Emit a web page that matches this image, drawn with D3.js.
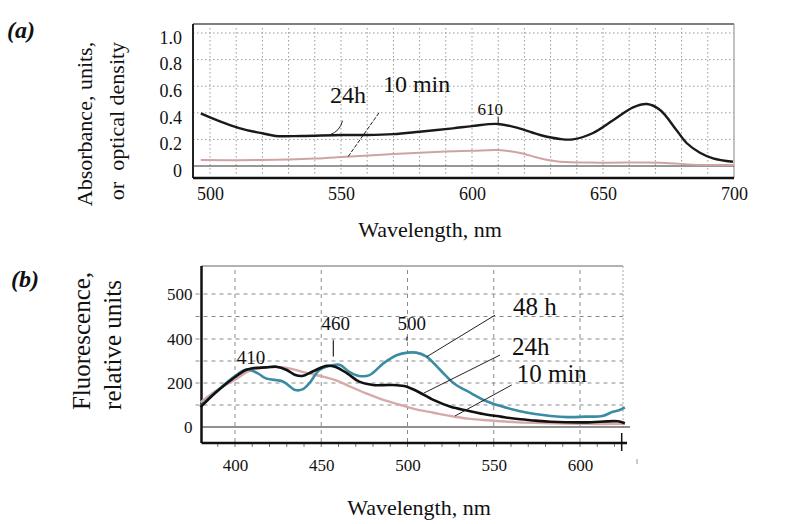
<!DOCTYPE html>
<html>
<head>
<meta charset="utf-8">
<script src="https://cdn.jsdelivr.net/npm/d3@7"></script>
<style>
  body { margin: 0; background: #fff; }
  svg text { font-family: "Liberation Serif", "Times New Roman", Times, "DejaVu Serif", serif !important; fill: #111; }
</style>
</head>
<body>
<svg width="808" height="524" font-family="Liberation Serif"></svg>
<script>
// ---- panel (a): absorbance ----
const absWave24 = [496.5, 500, 507.6, 514, 520, 525, 535, 550, 560, 570, 580, 592.7, 600, 610, 618, 626, 633.6, 638.5, 646, 654, 661.5, 666.8, 671.8, 678, 682, 687, 692, 699.6];
const absVal24  = [0.396, 0.366, 0.308, 0.27, 0.246, 0.226, 0.226, 0.233, 0.233, 0.24, 0.258, 0.283, 0.30, 0.316, 0.283, 0.233, 0.203, 0.2, 0.246, 0.346, 0.441, 0.466, 0.421, 0.271, 0.171, 0.1, 0.058, 0.032];
const absWave10 = [496.5, 520, 540, 552, 570, 588, 600, 610, 618, 626, 633.6, 649, 672, 687, 700];
const absVal10  = [0.045, 0.045, 0.056, 0.07, 0.09, 0.107, 0.114, 0.12, 0.1, 0.058, 0.032, 0.025, 0.025, 0.008, 0.008];
const absXTicks = [500, 550, 600, 650, 700];
const absYTicks = [0, 0.2, 0.4, 0.6, 0.8, 1.0];

// ---- panel (b): fluorescence ----
const flWave48 = [380, 389, 400, 407, 413, 418, 428, 435, 439, 443, 449, 457, 461, 466, 472, 478, 486, 494, 500, 505, 511, 519, 527, 537, 544, 554, 564, 574, 583, 593, 603, 613, 619, 623, 626];
const flVal48  = [95, 160, 232, 262, 245, 221, 206, 168, 171, 198, 259, 282, 282, 252, 232, 236, 289, 327, 338, 338, 320, 259, 198, 153, 123, 95, 74, 59, 50, 45, 47, 50, 69, 77, 89];
const flWave24 = [380, 389, 400, 406, 410, 418, 424, 430, 435, 439, 445, 453, 458, 465, 472, 480, 490, 498, 505, 515, 525, 535, 544, 554, 564, 574, 583, 603, 622, 626];
const flVal24  = [90, 158, 227, 258, 267, 271, 274, 259, 236, 232, 252, 278, 274, 244, 206, 191, 191, 186, 165, 123, 92, 74, 59, 47, 36, 29, 24, 21, 26, 17];
const flWave10 = [380, 389, 400, 407, 414, 428, 434, 441, 451, 459, 467, 476, 486, 496, 505, 515, 525, 535, 544, 564, 583, 603, 626];
const flVal10  = [112, 165, 215, 250, 267, 271, 262, 247, 229, 211, 183, 153, 123, 100, 80, 65, 50, 38, 32, 21, 17, 14, 14];
const flXTicks = [400, 450, 500, 550, 600];
const flYTicks = [0, 200, 400, 500];
const flGrid   = [100, 200, 300, 400, 450, 500];

const serif = "Liberation Serif";
const svg = d3.select("svg");

// scales
const xa = d3.scaleLinear().domain([500, 700]).range([210, 734]);
const ya = d3.scaleLinear().domain([0, 1]).range([166, 33]);
const xb = d3.scaleLinear().domain([400, 600]).range([235, 580]);
// the printed "500" label sits one grid step higher than linear, so the scale bends above 400
const yb = d3.scaleLinear().domain([0, 400, 500]).range([427, 339, 294]);

const boxA = {l: 193, r: 734, t: 24, b: 178};
const boxB = {l: 201.5, r: 623, t: 266, b: 443};

function label(g, x, y, size, txt) {
    return g.append("text").attr("x", x).attr("y", y)
        .attr("font-family", serif).attr("font-size", size).text(txt);
}

// ================= panel (a) =================
const ga = svg.append("g");

// dotted grid
ga.append("g")
    .selectAll("line")
    .data(d3.range(500, 700, 10))
    .join("line")
    .attr("x1", d => xa(d)).attr("x2", d => xa(d))
    .attr("y1", boxA.t + 4).attr("y2", boxA.b - 2)
    .attr("stroke", "#9a9a9a").attr("stroke-width", 1)
    .attr("stroke-dasharray", "1.5,2.5");
ga.append("g")
    .selectAll("line")
    .data(absYTicks.slice(1))
    .join("line")
    .attr("x1", boxA.l).attr("x2", boxA.r)
    .attr("y1", d => ya(d)).attr("y2", d => ya(d))
    .attr("stroke", "#9a9a9a").attr("stroke-width", 1)
    .attr("stroke-dasharray", "1.5,2.5");

// frame
ga.append("line").attr("x1", boxA.l).attr("x2", boxA.r).attr("y1", boxA.t).attr("y2", boxA.t)
    .attr("stroke", "#555").attr("stroke-width", 1.5);
ga.append("line").attr("x1", boxA.r).attr("x2", boxA.r).attr("y1", boxA.t).attr("y2", boxA.b)
    .attr("stroke", "#999").attr("stroke-width", 1.2);
ga.append("line").attr("x1", boxA.l).attr("x2", boxA.l).attr("y1", boxA.t).attr("y2", boxA.b)
    .attr("stroke", "#222").attr("stroke-width", 2);
ga.append("line").attr("x1", boxA.l).attr("x2", boxA.r).attr("y1", boxA.b).attr("y2", boxA.b)
    .attr("stroke", "#111").attr("stroke-width", 2.5);
ga.append("line").attr("x1", boxA.l).attr("x2", boxA.r).attr("y1", ya(0)).attr("y2", ya(0))
    .attr("stroke", "#333").attr("stroke-width", 1.2);

// axes (labels only)
ga.append("g")
    .attr("transform", `translate(${boxA.l},0)`)
    .call(d3.axisLeft(ya).tickValues(absYTicks).tickSize(0).tickPadding(11)
        .tickFormat(d => d === 0 ? "0" : d3.format(".1f")(d)))
    .attr("font-family", serif).attr("font-size", 18)
    .call(g => g.select(".domain").remove())
    .call(g => g.selectAll("text").attr("dy", "0.57em").attr("fill", "#222"));
ga.append("g")
    .attr("transform", `translate(0,${boxA.b})`)
    .call(d3.axisBottom(xa).tickValues(absXTicks).tickSize(0).tickPadding(9))
    .attr("font-family", serif).attr("font-size", 18)
    .call(g => g.select(".domain").remove())
    .call(g => g.selectAll("text").attr("fill", "#222"));

const lineA = d3.line().x(d => xa(d[0])).y(d => ya(d[1])).curve(d3.curveCatmullRom);
ga.append("path").datum(d3.zip(absWave10, absVal10)).attr("d", lineA)
    .attr("fill", "none").attr("stroke", "#cfa3a3").attr("stroke-width", 2);
ga.append("path").datum(d3.zip(absWave24, absVal24)).attr("d", lineA)
    .attr("fill", "none").attr("stroke", "#1a1a1a").attr("stroke-width", 2.4);

// annotations (a)
label(ga, xa(545.8), ya(0.474), 24, "24h");
label(ga, xa(566), ya(0.559), 24, "10 min");
ga.append("path")
    .attr("d", `M${xa(550.6)},${ya(0.34)} Q${xa(549.5)},${ya(0.26)} ${xa(545.8)},${ya(0.235)}`)
    .attr("fill", "none").attr("stroke", "#222").attr("stroke-width", 1);
ga.append("line")
    .attr("x1", xa(564.5)).attr("y1", ya(0.4)).attr("x2", xa(552.7)).attr("y2", ya(0.07))
    .attr("stroke", "#222").attr("stroke-width", 1).attr("stroke-dasharray", "4,1.5");
label(ga, xa(607), ya(0.383), 17, "610").attr("text-anchor", "middle");
ga.append("line").attr("x1", xa(610)).attr("x2", xa(610)).attr("y1", ya(0.368)).attr("y2", ya(0.316))
    .attr("stroke", "#222").attr("stroke-width", 1);

label(ga, 430, 237, 22, "Wavelength, nm").attr("text-anchor", "middle");
ga.append("text").attr("transform", "translate(92,124) rotate(-90)")
    .attr("font-family", serif).attr("font-size", 22)
    .attr("text-anchor", "middle").text("Absorbance, units,");
ga.append("text").attr("transform", "translate(124,121) rotate(-90)")
    .attr("font-family", serif).attr("font-size", 22)
    .attr("text-anchor", "middle").attr("xml:space", "preserve").text("or  optical density");
label(ga, 7, 38, 24, "(a)").attr("font-weight", "bold").attr("font-style", "italic");

// ================= panel (b) =================
const gb = svg.append("g");

gb.append("g")
    .selectAll("line")
    .data(flGrid)
    .join("line")
    .attr("x1", boxB.l - 6).attr("x2", boxB.r)
    .attr("y1", d => yb(d)).attr("y2", d => yb(d))
    .attr("stroke", "#8a8a8a").attr("stroke-width", 1)
    .attr("stroke-dasharray", "4,4");
gb.append("g")
    .selectAll("line")
    .data(flXTicks)
    .join("line")
    .attr("x1", d => xb(d)).attr("x2", d => xb(d))
    .attr("y1", boxB.t + 4).attr("y2", boxB.b)
    .attr("stroke", "#8a8a8a").attr("stroke-width", 1)
    .attr("stroke-dasharray", "4,4");
// minor ticks under the axis
gb.append("g")
    .selectAll("line")
    .data(d3.range(390, 630, 10))
    .join("line")
    .attr("x1", d => xb(d)).attr("x2", d => xb(d))
    .attr("y1", boxB.b + 1).attr("y2", boxB.b + 4)
    .attr("stroke", "#777").attr("stroke-width", 1);

gb.append("line").attr("x1", boxB.l).attr("x2", boxB.r).attr("y1", boxB.t).attr("y2", boxB.t)
    .attr("stroke", "#666").attr("stroke-width", 1.2);
gb.append("line").attr("x1", boxB.r).attr("x2", boxB.r).attr("y1", boxB.t).attr("y2", yb(0))
    .attr("stroke", "#aaa").attr("stroke-width", 1).attr("stroke-dasharray", "2,2");
gb.append("line").attr("x1", boxB.l).attr("x2", boxB.l).attr("y1", boxB.t).attr("y2", boxB.b)
    .attr("stroke", "#111").attr("stroke-width", 2.5);
gb.append("line").attr("x1", boxB.l).attr("x2", 627).attr("y1", boxB.b).attr("y2", boxB.b)
    .attr("stroke", "#111").attr("stroke-width", 2.5);
gb.append("line").attr("x1", boxB.l).attr("x2", 630).attr("y1", yb(0)).attr("y2", yb(0))
    .attr("stroke", "#222").attr("stroke-width", 1.2);
gb.append("line").attr("x1", 621.7).attr("x2", 621.7).attr("y1", boxB.b - 10).attr("y2", boxB.b + 8)
    .attr("stroke", "#111").attr("stroke-width", 1.5);
gb.append("line").attr("x1", 637).attr("x2", 637).attr("y1", 459).attr("y2", 464)
    .attr("stroke", "#999").attr("stroke-width", 1);

gb.append("g")
    .attr("transform", `translate(${boxB.l},0)`)
    .call(d3.axisLeft(yb).tickValues(flYTicks).tickSize(0).tickPadding(9))
    .attr("font-family", serif).attr("font-size", 17)
    .call(g => g.select(".domain").remove())
    .call(g => g.selectAll("text").attr("fill", "#222"));
gb.append("g")
    .attr("transform", `translate(0,${boxB.b})`)
    .call(d3.axisBottom(xb).tickValues(flXTicks).tickSize(0).tickPadding(16))
    .attr("font-family", serif).attr("font-size", 17)
    .call(g => g.select(".domain").remove())
    .call(g => g.selectAll("text").attr("fill", "#222"));

const lineB = d3.line().x(d => xb(d[0])).y(d => yb(d[1])).curve(d3.curveCatmullRom);
gb.append("path").datum(d3.zip(flWave10, flVal10)).attr("d", lineB)
    .attr("fill", "none").attr("stroke", "#d7a9a9").attr("stroke-width", 2.4);
gb.append("path").datum(d3.zip(flWave48, flVal48)).attr("d", lineB)
    .attr("fill", "none").attr("stroke", "#3a8ca4").attr("stroke-width", 2.6);
gb.append("path").datum(d3.zip(flWave24, flVal24)).attr("d", lineB)
    .attr("fill", "none").attr("stroke", "#111").attr("stroke-width", 2.6);

// peak labels
label(gb, xb(409.3), yb(286), 19, "410").attr("text-anchor", "middle");
label(gb, xb(458.4), yb(420), 19, "460").attr("text-anchor", "middle");
label(gb, xb(502.4), yb(420), 19, "500").attr("text-anchor", "middle");
gb.append("line").attr("x1", xb(457)).attr("x2", xb(457)).attr("y1", yb(394)).attr("y2", yb(320))
    .attr("stroke", "#222").attr("stroke-width", 1.2);
gb.append("line").attr("x1", xb(499.7)).attr("x2", xb(499.7)).attr("y1", yb(405)).attr("y2", yb(392))
    .attr("stroke", "#222").attr("stroke-width", 1.2);

// series labels and leaders
label(gb, xb(561.2), yb(453), 25, "48 h");
label(gb, xb(560.6), yb(327), 25, "24h");
label(gb, xb(563.3), yb(206), 25, "10 min");
gb.append("line").attr("x1", xb(550.7)).attr("y1", yb(453)).attr("x2", xb(511.1)).attr("y2", yb(319))
    .attr("stroke", "#222").attr("stroke-width", 1);
gb.append("line").attr("x1", xb(553.6)).attr("y1", yb(327)).attr("x2", xb(509.2)).attr("y2", yb(153))
    .attr("stroke", "#222").attr("stroke-width", 1);
gb.append("line").attr("x1", xb(560.4)).attr("y1", yb(191)).attr("x2", xb(527.5)).attr("y2", yb(50))
    .attr("stroke", "#222").attr("stroke-width", 1);

label(gb, 419, 515, 22, "Wavelength, nm").attr("text-anchor", "middle");
gb.append("text").attr("transform", "translate(90,341) rotate(-90)")
    .attr("font-family", serif).attr("font-size", 25)
    .attr("text-anchor", "middle").text("Fluorescence,");
gb.append("text").attr("transform", "translate(121,345) rotate(-90)")
    .attr("font-family", serif).attr("font-size", 25)
    .attr("text-anchor", "middle").text("relative units");
label(gb, 11, 287, 24, "(b)").attr("font-weight", "bold").attr("font-style", "italic");
</script>
</body>
</html>
